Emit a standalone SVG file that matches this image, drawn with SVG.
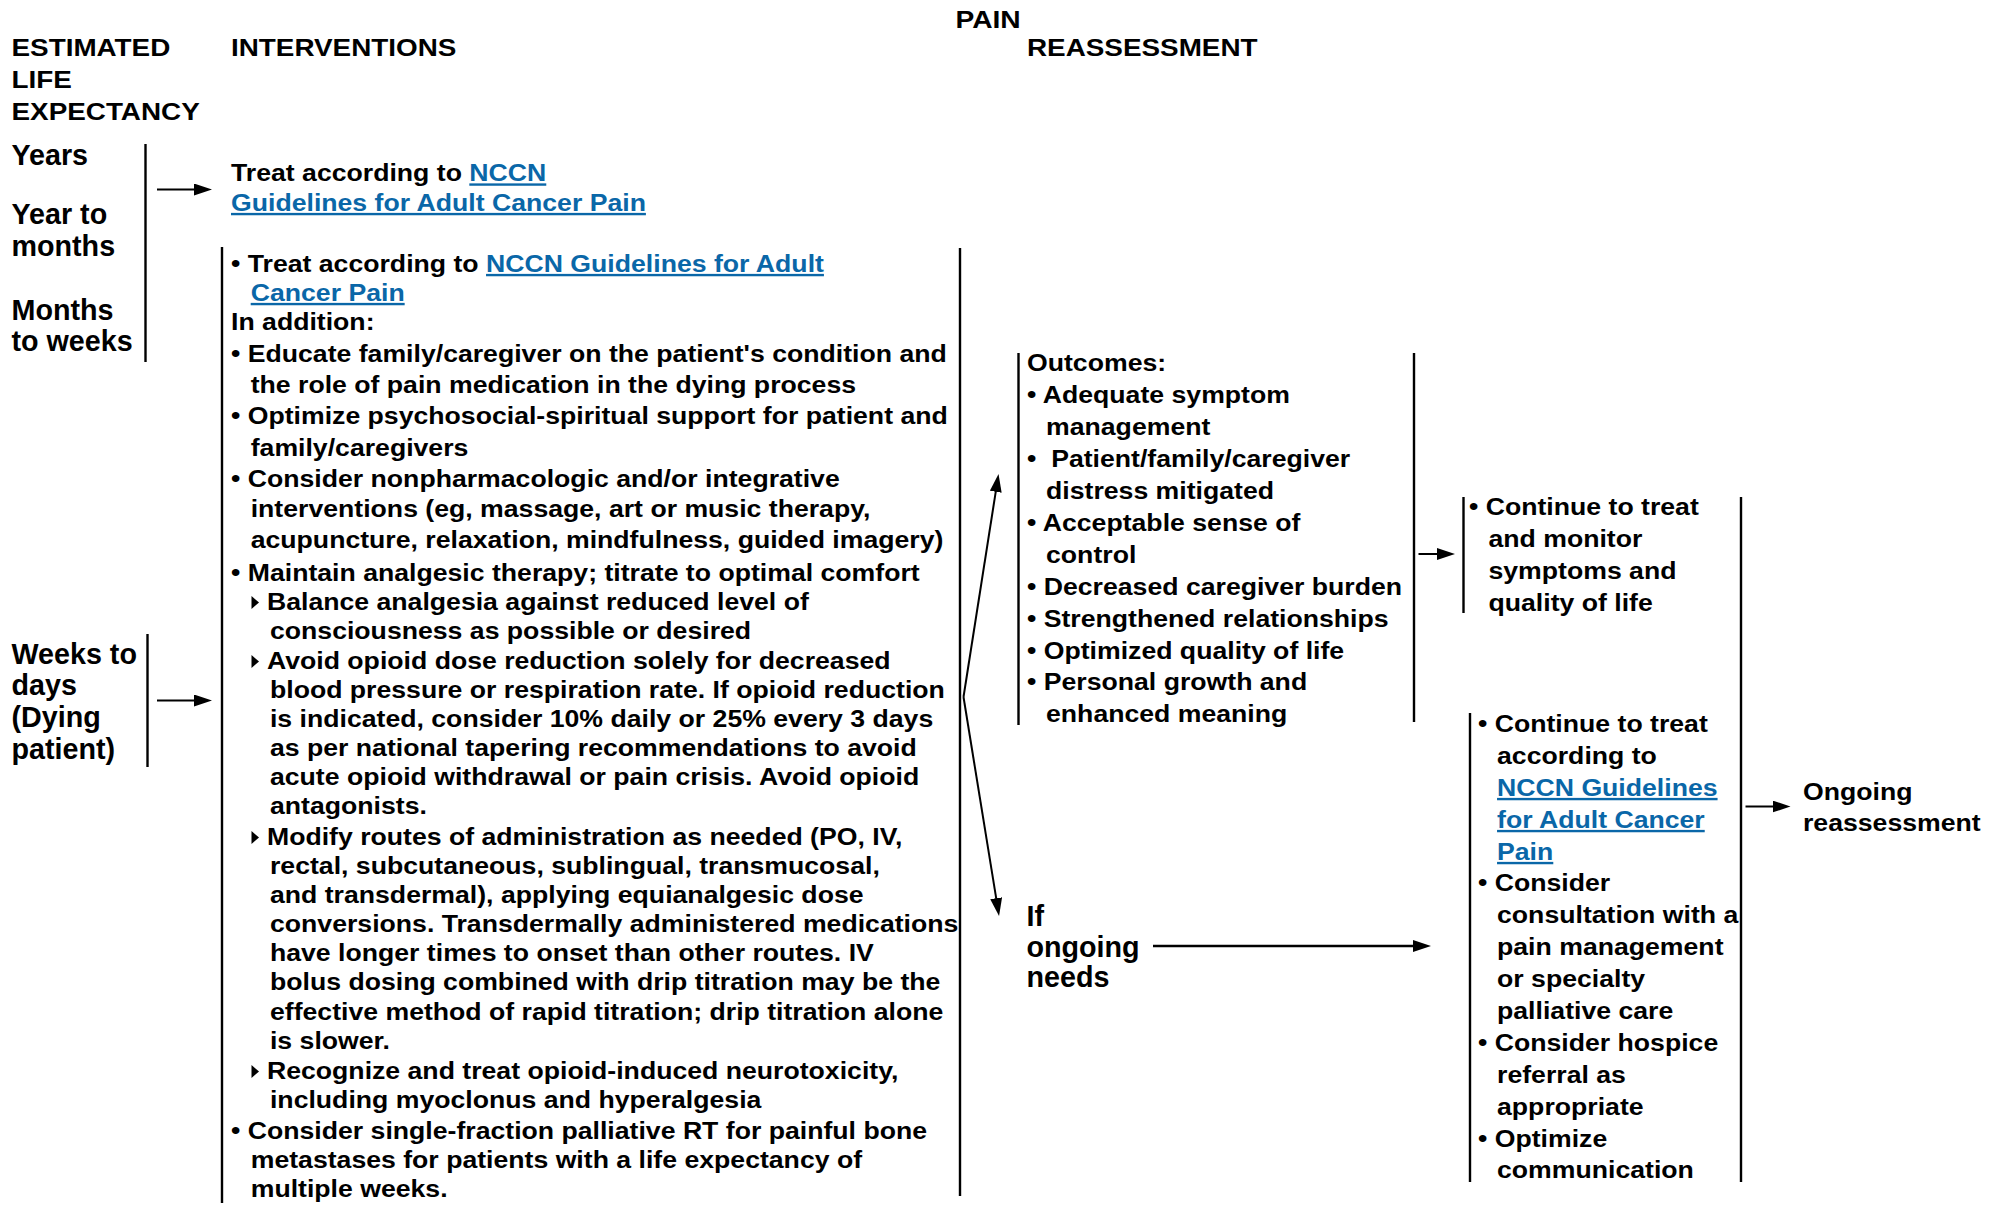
<svg xmlns="http://www.w3.org/2000/svg" width="2003" height="1206" viewBox="0 0 2003 1206">
<style>
text{font-family:"Liberation Sans",Arial,sans-serif;font-weight:bold;fill:#000}
.b{font-size:23.8px}
.h{font-size:24.5px}
.lg{font-size:28.7px}
.lk{fill:#0a67a8;text-decoration:underline}
.bar{stroke:#000;stroke-width:2.4;fill:none}
.cn{stroke:#000;stroke-width:2;fill:none;marker-end:url(#ah)}
</style>
<defs>
<marker id="ah" markerUnits="userSpaceOnUse" markerWidth="20" markerHeight="14" refX="2" refY="6" orient="auto"><path d="M0,0 L18,6 L0,12 Z" fill="#000"/></marker>
<path id="tri" d="M0,-6.5 L7.5,0 L0,6.5 Z" fill="#000"/>
</defs>
<rect width="2003" height="1206" fill="#fff"/>

<g id="header">
<text class="h" transform="translate(11.5 0) scale(1.137 1)"><tspan x="0" y="56.5">ESTIMATED</tspan><tspan x="0" y="88">LIFE</tspan><tspan x="0" y="120">EXPECTANCY</tspan></text>
<text class="h" transform="translate(231 0) scale(1.137 1)" x="0" y="56.5">INTERVENTIONS</text>
<text class="h" transform="translate(955.5 0) scale(1.15 1)" x="0" y="28.5">PAIN</text>
<text class="h" transform="translate(1027 0) scale(1.137 1)" x="0" y="56.5">REASSESSMENT</text>
</g>

<g id="node-life-expectancy">
<text class="lg"><tspan x="11.5" y="165">Years</tspan><tspan x="11.5" y="224">Year to</tspan><tspan x="11.5" y="255.5">months</tspan><tspan x="11.5" y="319.5">Months</tspan><tspan x="11.5" y="351">to weeks</tspan></text>
<line class="bar" x1="145.5" y1="144" x2="145.5" y2="362"/>
</g>

<g id="node-weeks-to-days">
<text class="lg"><tspan x="11.5" y="663.5">Weeks to</tspan><tspan x="11.5" y="695">days</tspan><tspan x="11.5" y="727">(Dying</tspan><tspan x="11.5" y="759">patient)</tspan></text>
<line class="bar" x1="147.5" y1="634" x2="147.5" y2="767"/>
</g>

<g id="node-treat">
<text class="b" transform="translate(231 0) scale(1.12 1)"><tspan x="0" y="181.5">Treat according to <tspan class="lk">NCCN</tspan></tspan><tspan x="0" y="211" class="lk">Guidelines for Adult Cancer Pain</tspan></text>
</g>

<g id="node-interventions">
<line class="bar" x1="222" y1="247" x2="222" y2="1203"/>
<line class="bar" x1="960" y1="248" x2="960" y2="1196"/>
<text class="b" transform="translate(231 0) scale(1.12 1)"><tspan x="0" y="272">• Treat according to <tspan class="lk">NCCN Guidelines for Adult</tspan></tspan><tspan x="17.6" y="301" class="lk">Cancer Pain</tspan><tspan x="0" y="330">In addition:</tspan><tspan x="0" y="362">• Educate family/caregiver on the patient's condition and</tspan><tspan x="17.6" y="393">the role of pain medication in the dying process</tspan><tspan x="0" y="424">• Optimize psychosocial-spiritual support for patient and</tspan><tspan x="17.6" y="456">family/caregivers</tspan><tspan x="0" y="487">• Consider nonpharmacologic and/or integrative</tspan><tspan x="17.6" y="517">interventions (eg, massage, art or music therapy,</tspan><tspan x="17.6" y="548">acupuncture, relaxation, mindfulness, guided imagery)</tspan><tspan x="0" y="581">• Maintain analgesic therapy; titrate to optimal comfort</tspan><tspan x="32.1" y="610">Balance analgesia against reduced level of</tspan><tspan x="34.8" y="639">consciousness as possible or desired</tspan><tspan x="32.1" y="669">Avoid opioid dose reduction solely for decreased</tspan><tspan x="34.8" y="698.5">blood pressure or respiration rate. If opioid reduction</tspan><tspan x="34.8" y="727.5">is indicated, consider 10% daily or 25% every 3 days</tspan><tspan x="34.8" y="756.5">as per national tapering recommendations to avoid</tspan><tspan x="34.8" y="785.5">acute opioid withdrawal or pain crisis. Avoid opioid</tspan><tspan x="34.8" y="814.5">antagonists.</tspan><tspan x="32.1" y="845">Modify routes of administration as needed (PO, IV,</tspan><tspan x="34.8" y="874.5">rectal, subcutaneous, sublingual, transmucosal,</tspan><tspan x="34.8" y="903.5">and transdermal), applying equianalgesic dose</tspan><tspan x="34.8" y="932.5">conversions. Transdermally administered medications</tspan><tspan x="34.8" y="961.5">have longer times to onset than other routes. IV</tspan><tspan x="34.8" y="990.5">bolus dosing combined with drip titration may be the</tspan><tspan x="34.8" y="1020">effective method of rapid titration; drip titration alone</tspan><tspan x="34.8" y="1049">is slower.</tspan><tspan x="32.1" y="1079">Recognize and treat opioid-induced neurotoxicity,</tspan><tspan x="34.8" y="1108">including myoclonus and hyperalgesia</tspan><tspan x="0" y="1139">• Consider single-fraction palliative RT for painful bone</tspan><tspan x="17.6" y="1168">metastases for patients with a life expectancy of</tspan><tspan x="17.6" y="1197">multiple weeks.</tspan></text>
<use href="#tri" x="251.5" y="602.5"/>
<use href="#tri" x="251.5" y="661.5"/>
<use href="#tri" x="251.5" y="837.5"/>
<use href="#tri" x="251.5" y="1071.5"/>
</g>

<g id="node-outcomes">
<line class="bar" x1="1018.5" y1="353" x2="1018.5" y2="725"/>
<line class="bar" x1="1414" y1="353" x2="1414" y2="722"/>
<text class="b" transform="translate(1027 0) scale(1.12 1)"><tspan x="0" y="371">Outcomes:</tspan><tspan x="0" y="403">• Adequate symptom</tspan><tspan x="17" y="435">management</tspan><tspan x="0" y="467">•&#160; Patient/family/caregiver</tspan><tspan x="17" y="499">distress mitigated</tspan><tspan x="0" y="531">• Acceptable sense of</tspan><tspan x="17" y="563">control</tspan><tspan x="0" y="595">• Decreased caregiver burden</tspan><tspan x="0" y="627">• Strengthened relationships</tspan><tspan x="0" y="659">• Optimized quality of life</tspan><tspan x="0" y="690.5">• Personal growth and</tspan><tspan x="17" y="722">enhanced meaning</tspan></text>
</g>

<g id="node-ongoing-needs">
<text class="lg"><tspan x="1026.5" y="926">If</tspan><tspan x="1026.5" y="957">ongoing</tspan><tspan x="1026.5" y="987">needs</tspan></text>
</g>

<g id="node-continue-monitor">
<line class="bar" x1="1463.5" y1="497" x2="1463.5" y2="613"/>
<text class="b" transform="translate(1469 0) scale(1.12 1)"><tspan x="0" y="515">• Continue to treat</tspan><tspan x="17.4" y="547">and monitor</tspan><tspan x="17.4" y="579">symptoms and</tspan><tspan x="17.4" y="611">quality of life</tspan></text>
</g>

<g id="node-continue-treat">
<line class="bar" x1="1470" y1="713" x2="1470" y2="1182"/>
<text class="b" transform="translate(1478 0) scale(1.12 1)"><tspan x="0" y="732">• Continue to treat</tspan><tspan x="17" y="764">according to</tspan><tspan x="17" y="796" class="lk">NCCN Guidelines</tspan><tspan x="17" y="828" class="lk">for Adult Cancer</tspan><tspan x="17" y="860" class="lk">Pain</tspan><tspan x="0" y="891.5">• Consider</tspan><tspan x="17" y="923.5">consultation with a</tspan><tspan x="17" y="955.5">pain management</tspan><tspan x="17" y="987">or specialty</tspan><tspan x="17" y="1019">palliative care</tspan><tspan x="0" y="1051">• Consider hospice</tspan><tspan x="17" y="1083">referral as</tspan><tspan x="17" y="1115">appropriate</tspan><tspan x="0" y="1147">• Optimize</tspan><tspan x="17" y="1178.5">communication</tspan></text>
</g>

<g id="bracket-reassessment">
<line class="bar" x1="1741" y1="497" x2="1741" y2="1182"/>
</g>

<g id="node-ongoing-reassessment">
<text class="b" transform="translate(1803 0) scale(1.12 1)"><tspan x="0" y="800">Ongoing</tspan><tspan x="0" y="831">reassessment</tspan></text>
</g>

<g id="connectors">
<line class="cn" x1="157" y1="189.5" x2="196" y2="189.5"/>
<line class="cn" x1="157" y1="700.5" x2="196" y2="700.5"/>
<line class="cn" x1="963.5" y1="697" x2="996.05" y2="489.8"/>
<line class="cn" x1="963.5" y1="697" x2="996.5" y2="900.2"/>
<line class="cn" style="stroke-width:2.6" x1="1153" y1="946" x2="1415" y2="946"/>
<line class="cn" x1="1418.5" y1="554" x2="1439" y2="554"/>
<line class="cn" x1="1745.5" y1="806.5" x2="1774.5" y2="806.5"/>
</g>
</svg>
